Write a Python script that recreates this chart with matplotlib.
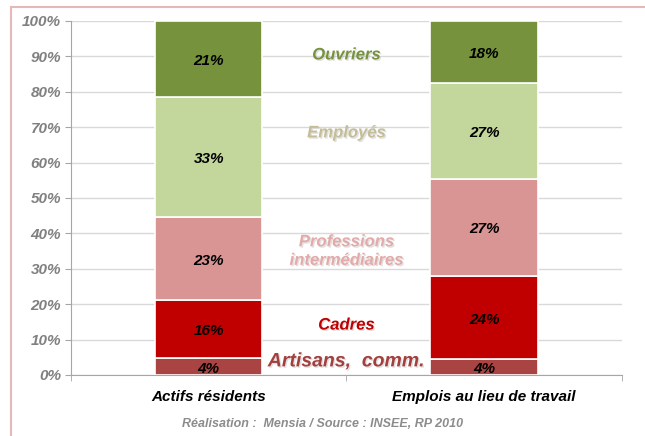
import numpy as np
import matplotlib.pyplot as plt
import matplotlib.patheffects as pe
from matplotlib.lines import Line2D

plt.rcParams["font.family"] = ["Liberation Sans", "DejaVu Sans"]

# Données
groupes = ["Actifs résidents", "Emplois au lieu de travail"]
categories = ["Artisans,  comm.", "Cadres", "Professions\nintermédiaires", "Employés", "Ouvriers"]
actifs = [4.8, 16.3, 23.5, 33.9, 21.5]
emplois = [4.4, 23.6, 27.4, 27.2, 17.4]
labels_actifs = ["4%", "16%", "23%", "33%", "21%"]
labels_emplois = ["4%", "24%", "27%", "27%", "18%"]
couleurs = ["#A94442", "#C00000", "#D99594", "#C3D69B", "#76923C"]
couleurs_texte = ["#A3403E", "#C00000", "#E3AAA9", "#C4BD97", "#76923C"]
pos_texte = [3.7, 14.1, 35.0, 68.4, 90.4]
taille_texte = [14, 12, 12, 12, 12]

fig = plt.figure(figsize=(6.45, 4.36), dpi=100)
ax = fig.add_axes([0.110, 0.140, 0.854, 0.812])

x = np.arange(len(groupes))
valeurs = np.array([actifs, emplois])
etiquettes = [labels_actifs, labels_emplois]
bas = np.zeros(len(groupes))
for i in range(len(categories)):
    ax.bar(x, valeurs[:, i], bottom=bas, width=0.39, color=couleurs[i],
           edgecolor="white", linewidth=1.2, zorder=3)
    for j in range(len(groupes)):
        ax.text(x[j], bas[j] + valeurs[j, i] / 2 - 0.6, etiquettes[j][i],
                ha="center", va="center", fontsize=11, fontweight="bold",
                fontstyle="italic", color="black", zorder=4)
    bas += valeurs[:, i]

# noms des catégories au milieu
ombre = [pe.SimplePatchShadow(offset=(1.0, -1.0), shadow_rgbFace="#999999", alpha=0.3), pe.Normal()]
for i, cat in enumerate(categories):
    ax.text(0.5, pos_texte[i], cat, ha="center", va="center",
            fontsize=taille_texte[i], fontweight="bold", fontstyle="italic",
            color=couleurs_texte[i], linespacing=1.3, path_effects=ombre, zorder=5)

ax.set_xlim(-0.5, 1.5)
ax.set_ylim(0, 100)
ax.set_yticks(np.arange(0, 101, 10))
ax.set_yticklabels([f"{v}%" for v in range(0, 101, 10)], fontsize=11,
                   fontweight="bold", fontstyle="italic", color="#808080")
ax.set_xticks(x)
ax.set_xticklabels(groupes, fontsize=11, fontweight="bold", fontstyle="italic")
ax.set_xticks([-0.5, 0.5, 1.5], minor=True)
ax.tick_params(axis="x", which="major", length=0, pad=11)
ax.tick_params(axis="x", which="minor", length=4, color="#A6A6A6")
ax.tick_params(axis="y", length=4, color="#A6A6A6", pad=3)
ax.grid(axis="y", color="#D9D9D9", linewidth=1, zorder=0)
for s in ["top", "right"]:
    ax.spines[s].set_visible(False)
ax.spines["left"].set_color("#A6A6A6")
ax.spines["bottom"].set_color("#A6A6A6")

fig.text(0.50, 0.028, "Réalisation :  Mensia / Source : INSEE, RP 2010",
         ha="center", va="center", fontsize=9, fontweight="bold",
         fontstyle="italic", color="#8C8C8C")

# cadre rose
fig.add_artist(Line2D([0.017, 1.0], [0.984, 0.984], color="#E6B8B7", linewidth=1.5))
fig.add_artist(Line2D([0.017, 0.017], [0.0, 0.984], color="#E6B8B7", linewidth=1.5))

fig.savefig("out.png", dpi=100)
